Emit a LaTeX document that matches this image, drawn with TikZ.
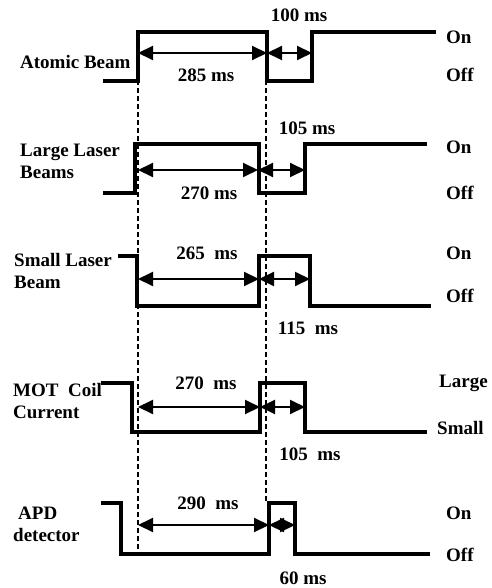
\documentclass[tikz,border=0pt]{standalone}
\usepackage{fontspec}
\setmainfont{Liberation Serif}
\usetikzlibrary{arrows.meta}

\begin{document}
\begin{tikzpicture}[x=1pt,y=-1pt,>={Triangle[length=15pt,width=14pt]},
    sig/.style={line width=3.8pt,line join=miter},
    dim/.style={<->,line width=2pt},
    guide/.style={line width=1.4pt,dash pattern=on 5pt off 3pt},
    txt/.style={font=\fontsize{19}{22}\selectfont\bfseries,inner sep=0pt},
    lbl/.style={txt,anchor=west,align=left}]
    \useasboundingbox (0,0) rectangle (491,588);
    % guides
    \draw[guide] (138,32) -- (138,555);
    \draw[guide] (266,32) -- (266,503);
    % signal traces
    \draw[sig] (103,81) -- (138,81) -- (138,32) -- (267,32) -- (267,81) -- (312,81) -- (312,32) -- (436,32);
    \draw[sig] (103,193) -- (135,193) -- (135,144) -- (259,144) -- (259,193) -- (305,193) -- (305,144) -- (427,144);
    \draw[sig] (118,256) -- (137,256) -- (137,306) -- (259,306) -- (259,256) -- (310,256) -- (310,306) -- (431,306);
    \draw[sig] (101,383) -- (132,383) -- (132,432) -- (260,432) -- (260,383) -- (305,383) -- (305,432) -- (427,432);
    \draw[sig] (101,503) -- (121,503) -- (121,554) -- (269,554) -- (269,503) -- (295,503) -- (295,554) -- (430,554);
    % durations
    \foreach \n/\y/\a/\b/\c in {ab/53/138/267/312,ll/170/138/258/305,sl/279/138/259/310,mc/407/138/260/305,apd/525/138/269/295}{
       \coordinate (\n-a) at (\a,\y);
       \coordinate (\n-b) at (\b,\y);
       \coordinate (\n-c) at (\c,\y);
       \draw[dim] (\n-a) -- (\n-b);
       \draw[dim] (\n-b) -- (\n-c);
    }
    \foreach \n/\x/\y/\t in {t1/206/75/285 ms,t2/299/15/100 ms,t3/209/193/270 ms,t4/307/128/105 ms,
                             t5/207/253/265\ \ ms,t6/308/328/115\ \ ms,t7/206/383/270\ \ ms,t8/310/454/105\ \ ms,
                             t9/208/503/290\ \ ms,t10/303/578/60 ms}
       \node[txt] (\n) at (\x,\y) {\t};
    % signal names
    \node[lbl] (ab) at (20,62) {Atomic Beam};
    \node[lbl] (ll) at (20,161) {Large Laser\\Beams};
    \node[lbl] (sl) at (14,271) {Small Laser\\Beam};
    \node[lbl] (mc) at (13,401) {MOT\ \ Coil\\Current};
    \node[lbl] (apd) at (13,524) {\hspace{5pt}APD\\detector};
    % states
    \foreach \n/\x/\y/\t in {s1/446/37/On,s2/446/75/Off,s3/446/147/On,s4/446/193/Off,s5/446/253/On,s6/446/296/Off,
                          s7/439/383/Large,s8/437/428/Small,s9/446/513/On,s10/446/555/Off}
       \node[txt,anchor=west] (\n) at (\x,\y) {\t};
\end{tikzpicture}
\end{document}
